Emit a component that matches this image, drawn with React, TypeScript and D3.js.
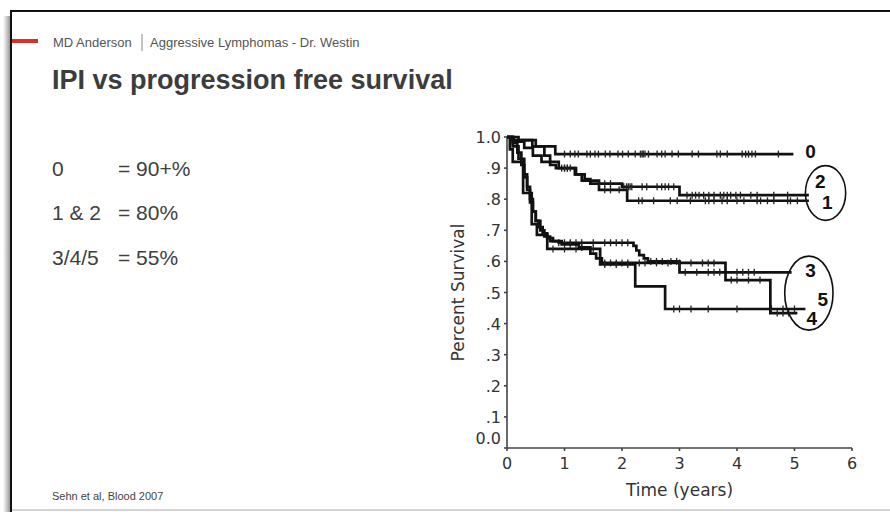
import React from "react";
import * as d3 from "d3";

// ---------- data ----------
const xTicks = [0, 1, 2, 3, 4, 5, 6];
const yTicks = [0, 0.1, 0.2, 0.3, 0.4, 0.5, 0.6, 0.7, 0.8, 0.9, 1.0];
const yTickLabels = ["0.0", ".1", ".2", ".3", ".4", ".5", ".6", ".7", ".8", ".9", "1.0"];

const summaryGroups = ["0", "1 & 2", "3/4/5"];
const summaryValues = ["= 90+%", "= 80%", "= 55%"];

const curveNames = ["0", "1", "2", "3", "4", "5"];

const curve0: [number, number][] = [[0, 1], [0.1, 0.99], [0.44, 0.97], [0.84, 0.945]];
const curve1: [number, number][] = [[0, 1], [0.12, 0.985], [0.3, 0.965], [0.45, 0.94], [0.6, 0.92], [0.75, 0.91], [0.85, 0.9], [1.18, 0.88], [1.3, 0.86], [1.6, 0.83], [2.09, 0.795]];
const curve2: [number, number][] = [[0, 1], [0.2, 0.99], [0.5, 0.97], [0.65, 0.94], [0.75, 0.92], [0.9, 0.9], [1.2, 0.88], [1.35, 0.865], [1.45, 0.85], [2.0, 0.84], [3.0, 0.813]];
const curve3: [number, number][] = [[0, 1], [0.1, 0.97], [0.2, 0.93], [0.3, 0.88], [0.35, 0.84], [0.4, 0.8], [0.45, 0.76], [0.5, 0.73], [0.55, 0.71], [0.62, 0.69], [0.7, 0.675], [0.8, 0.665], [0.9, 0.66], [2.2, 0.65], [2.25, 0.635], [2.3, 0.62], [2.38, 0.61], [2.45, 0.6], [3.0, 0.565]];
const curve4: [number, number][] = [[0, 1], [0.1, 0.98], [0.18, 0.95], [0.25, 0.91], [0.3, 0.87], [0.35, 0.83], [0.4, 0.79], [0.45, 0.76], [0.5, 0.73], [0.58, 0.7], [0.65, 0.68], [0.75, 0.665], [0.95, 0.655], [1.25, 0.645], [1.45, 0.625], [1.55, 0.61], [1.65, 0.595], [3.8, 0.54], [4.58, 0.434]];
const curve5: [number, number][] = [[0, 1], [0.05, 0.96], [0.1, 0.92], [0.28, 0.82], [0.43, 0.72], [0.52, 0.685], [0.7, 0.64], [1.62, 0.59], [2.23, 0.52], [2.75, 0.447]];

const curveEnds = [4.98, 5.25, 5.25, 4.95, 5.05, 5.19];

const censor0 = [1.0, 1.1, 1.18, 1.24, 1.39, 1.45, 1.53, 1.59, 1.71, 1.79, 1.93, 2.01, 2.11, 2.23, 2.32, 2.35, 2.37, 2.4, 2.46, 2.61, 2.69, 2.75, 2.87, 2.98, 3.22, 3.33, 3.65, 3.71, 3.83, 4.09, 4.15, 4.2, 4.26, 4.32, 4.72];
const censor1 = [0.95, 1.0, 1.05, 1.7, 1.8, 1.95, 2.08, 2.29, 2.35, 2.55, 2.84, 2.96, 3.19, 3.45, 3.51, 3.6, 3.74, 3.83, 4.0, 4.12, 4.35, 4.41, 4.53, 4.64, 4.88, 4.93, 5.05];
const censor2 = [1.0, 1.05, 1.1, 1.6, 1.7, 1.8, 2.03, 2.08, 2.11, 2.14, 2.17, 2.35, 2.43, 2.61, 2.69, 2.75, 2.81, 2.9, 3.13, 3.22, 3.28, 3.34, 3.42, 3.51, 3.6, 3.71, 3.77, 3.83, 3.89, 3.98, 4.06, 4.24, 4.35, 4.64, 4.88];
const censor3 = [0.9, 1.0, 1.1, 1.2, 1.3, 1.5, 1.7, 1.8, 1.9, 2.0, 2.1, 2.5, 2.6, 2.7, 2.85, 2.95, 3.1, 3.3, 3.5, 3.6, 3.7, 4.0, 4.1, 4.2, 4.3];
const censor4 = [1.1, 1.3, 1.7, 1.8, 1.9, 2.0, 2.1, 2.3, 2.4, 2.6, 2.8, 3.0, 3.2, 3.4, 3.5, 3.6, 3.9, 4.0, 4.2, 4.4, 4.7, 4.8, 4.9];
const censor5 = [0.8, 1.0, 1.2, 1.5, 1.7, 1.9, 2.1, 2.9, 3.0, 3.2, 3.5, 4.0, 4.6, 4.8, 5.0];

// label anchor points (time, survival)
const labelPos: [number, number][] = [[5.28, 0.952], [5.57, 0.788], [5.45, 0.858], [5.28, 0.572], [5.3, 0.418], [5.49, 0.476]];
// ellipses: [centre time, centre survival, half-width years, half-height survival]
const ellipses: [number, number, number, number][] = [[5.54, 0.82, 0.35, 0.088], [5.25, 0.498, 0.42, 0.119]];

const curves = [curve0, curve1, curve2, curve3, curve4, curve5];
const censors = [censor0, censor1, censor2, censor3, censor4, censor5];

export default function App() {
  const W = 890, H = 512;
  const x = d3.scaleLinear().domain([0, 6]).range([507, 852]);
  const y = d3.scaleLinear().domain([0, 1]).range([448, 137]);

  const line = d3.line<[number, number]>()
    .x((d) => x(d[0]))
    .y((d) => y(d[1]))
    .curve(d3.curveStepAfter);

  const valueAt = (pts: [number, number][], t: number) => {
    let v = pts[0][1];
    for (const p of pts) if (p[0] <= t) v = p[1];
    return v;
  };

  const axisColor = "#444";
  const axisFont = "'DejaVu Sans', Verdana, sans-serif";
  const slideFont = "'Liberation Sans', Arial, sans-serif";

  return (
    <svg width={W} height={H} style={{ position: "absolute", left: 0, top: 0, background: "#fff" }}>
      <defs>
        <linearGradient id="shadowL" x1="0" x2="1" y1="0" y2="0">
          <stop offset="0" stopColor="#fff" />
          <stop offset="1" stopColor="#9a9a9a" />
        </linearGradient>
      </defs>
      {/* slide frame */}
      <rect x={3} y={16} width={7} height={H - 16} fill="url(#shadowL)" />
      <rect x={10} y={10} width={W - 10} height={2} fill="#111" />
      <rect x={10} y={10} width={2} height={H - 10} fill="#111" />
      <rect x={12} y={509} width={W - 12} height={2} fill="#d4d4d4" />

      {/* header */}
      <rect x={12} y={39} width={26} height={4} fill="#d7312a" />
      <text x={53} y={46.5} fontFamily={slideFont} fontSize={13} fill="#555">MD Anderson</text>
      <line x1={142} x2={142} y1={34} y2={51} stroke="#888" strokeWidth={1} />
      <text x={150} y={46.5} fontFamily={slideFont} fontSize={13} fill="#555">Aggressive Lymphomas - Dr. Westin</text>
      <text x={52} y={89} fontFamily={slideFont} fontSize={27} fontWeight="bold" fill="#3c3c3c">IPI vs progression free survival</text>

      {/* summary */}
      {summaryGroups.map((g, i) => (
        <g key={g}>
          <text x={52} y={175.5 + i * 44.5} fontFamily={slideFont} fontSize={21} fill="#404040">{g}</text>
          <text x={118} y={175.5 + i * 44.5} fontFamily={slideFont} fontSize={21} fill="#404040">{summaryValues[i]}</text>
        </g>
      ))}

      <text x={52} y={500} fontFamily={slideFont} fontSize={11} fill="#444">Sehn et al, Blood 2007</text>

      {/* axes */}
      <line x1={x(0)} x2={x(0)} y1={y(1)} y2={y(0)} stroke={axisColor} strokeWidth={1.6} />
      <line x1={x(0)} x2={x(6)} y1={y(0)} y2={y(0)} stroke={axisColor} strokeWidth={1.6} />
      {xTicks.map((t) => (
        <g key={"x" + t}>
          <line x1={x(t)} x2={x(t)} y1={y(0)} y2={y(0) + 3} stroke={axisColor} strokeWidth={1.6} />
          <text x={x(t)} y={y(0) + 21} textAnchor="middle" fontFamily={axisFont} fontSize={16} fill="#333">{t}</text>
        </g>
      ))}
      {yTicks.map((v, i) => (
        <g key={"y" + i}>
          <line x1={x(0) - 3} x2={x(0)} y1={y(v)} y2={y(v)} stroke={axisColor} strokeWidth={1.6} />
          <text x={x(0) - 6} y={y(v) + (i === 0 ? -4 : 6)} textAnchor="end" fontFamily={axisFont} fontSize={16} fill="#333">{yTickLabels[i]}</text>
        </g>
      ))}
      <text x={(x(0) + x(6)) / 2} y={496} textAnchor="middle" fontFamily={axisFont} fontSize={17} fill="#333">Time (years)</text>
      <text transform={`translate(464, ${(y(0) + y(1)) / 2}) rotate(-90)`} textAnchor="middle" fontFamily={axisFont} fontSize={17} fill="#333">Percent Survival</text>

      {/* survival curves */}
      {curves.map((pts, i) => {
        const last = pts[pts.length - 1];
        const full: [number, number][] = [...pts, [curveEnds[i], last[1]]];
        return (
          <g key={"c" + i}>
            <path d={line(full) || ""} fill="none" stroke="#111" strokeWidth={2.7} />
            {censors[i].map((t, j) => (
              <line key={j} x1={x(t)} x2={x(t)} y1={y(valueAt(pts, t)) - 3.5} y2={y(valueAt(pts, t)) + 3.5} stroke="#222" strokeWidth={1.3} />
            ))}
          </g>
        );
      })}

      {/* curve labels */}
      {curveNames.map((n, i) => (
        <text key={"l" + n} x={x(labelPos[i][0])} y={y(labelPos[i][1])} textAnchor="middle" dominantBaseline="central" fontFamily={slideFont} fontSize={19} fontWeight="bold" fill="#111">{n}</text>
      ))}
      {ellipses.map((e, i) => (
        <ellipse key={"e" + i} cx={x(e[0])} cy={y(e[1])} rx={x(e[2]) - x(0)} ry={y(0) - y(e[3])} fill="none" stroke="#111" strokeWidth={1.6} />
      ))}
    </svg>
  );
}
